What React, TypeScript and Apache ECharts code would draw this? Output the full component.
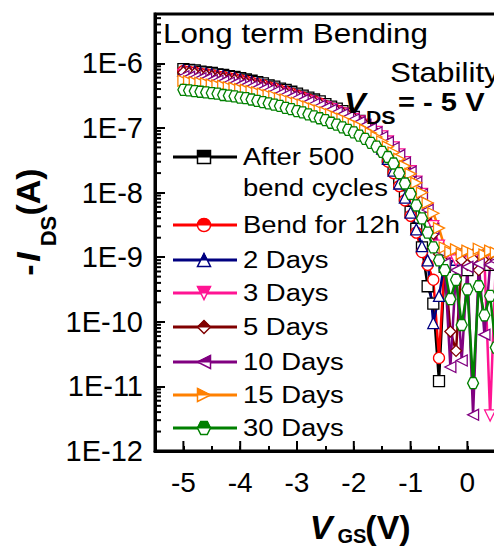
import React, { useEffect, useRef } from 'react';
import * as echarts from 'echarts';

// Gate voltage sweep (V)
const vgs = [
  -5.0, -4.9, -4.8, -4.7, -4.6, -4.5, -4.4, -4.3, -4.2, -4.1,
  -4.0, -3.9, -3.8, -3.7, -3.6, -3.5, -3.4, -3.3, -3.2, -3.1,
  -3.0, -2.9, -2.8, -2.7, -2.6, -2.5, -2.4, -2.3, -2.2, -2.1,
  -2.0, -1.9, -1.8, -1.7, -1.6, -1.5, -1.4, -1.3, -1.2, -1.1,
  -1.0, -0.9, -0.8, -0.7, -0.6, -0.5, -0.4, -0.3, -0.2, -0.1,
  0.0, 0.1, 0.2, 0.3, 0.4, 0.5, 0.6,
];

// log10(-I_DS / A), one list per curve
const logAfter500 = [
  -6.09, -6.10, -6.11, -6.13, -6.14, -6.15, -6.17, -6.18, -6.20, -6.21,
  -6.23, -6.25, -6.27, -6.29, -6.31, -6.34, -6.36, -6.39, -6.41, -6.44,
  -6.47, -6.50, -6.53, -6.56, -6.59, -6.63, -6.67, -6.70, -6.74, -6.78,
  -6.83, -6.89, -6.96, -7.05, -7.16, -7.30, -7.46, -7.64, -7.84, -8.06,
  -8.30, -8.56, -8.85, -9.45, -9.72, -10.92, -9.15, -9.05, -9.12, -9.02,
  -9.20, -9.06, -9.10, -9.01, -9.12, -9.05, -9.10,
];
const logBend12h = [
  -6.12, -6.13, -6.14, -6.16, -6.17, -6.18, -6.20, -6.21, -6.23, -6.24,
  -6.26, -6.28, -6.30, -6.32, -6.34, -6.37, -6.39, -6.42, -6.44, -6.47,
  -6.50, -6.53, -6.56, -6.59, -6.62, -6.66, -6.70, -6.73, -6.77, -6.81,
  -6.86, -6.92, -7.00, -7.09, -7.21, -7.36, -7.52, -7.70, -7.90, -8.12,
  -8.36, -8.62, -8.92, -9.12, -9.35, -10.56, -9.05, -8.98, -9.02, -8.96,
  -9.04, -8.97, -9.00, -8.95, -9.03, -8.98, -9.00,
];
const log2Days = [
  -6.11, -6.12, -6.13, -6.15, -6.16, -6.17, -6.19, -6.20, -6.22, -6.23,
  -6.25, -6.27, -6.29, -6.31, -6.33, -6.36, -6.38, -6.41, -6.43, -6.46,
  -6.49, -6.52, -6.55, -6.58, -6.61, -6.65, -6.69, -6.72, -6.76, -6.80,
  -6.85, -6.91, -6.98, -7.07, -7.18, -7.32, -7.48, -7.66, -7.86, -8.08,
  -8.31, -8.57, -8.83, -9.05, -10.02, -9.60, -9.08, -8.97, -9.04, -8.95,
  -9.01, -8.96, -9.03, -8.97, -9.00, -8.96, -9.02,
];
const log3Days = [
  -6.18, -6.19, -6.20, -6.21, -6.23, -6.24, -6.25, -6.27, -6.28, -6.30,
  -6.31, -6.33, -6.35, -6.37, -6.39, -6.41, -6.43, -6.46, -6.48, -6.51,
  -6.53, -6.56, -6.59, -6.62, -6.65, -6.68, -6.71, -6.75, -6.78, -6.82,
  -6.86, -6.90, -6.95, -7.00, -7.06, -7.13, -7.21, -7.30, -7.41, -7.53,
  -7.67, -7.83, -8.02, -8.25, -8.52, -8.82, -9.00, -8.96, -9.05, -8.98,
  -9.08, -9.02, -9.10, -9.03, -11.45, -9.10, -9.05,
];
const log5Days = [
  -6.14, -6.15, -6.16, -6.18, -6.19, -6.20, -6.22, -6.23, -6.25, -6.26,
  -6.28, -6.30, -6.32, -6.34, -6.36, -6.38, -6.41, -6.43, -6.46, -6.48,
  -6.51, -6.54, -6.57, -6.60, -6.63, -6.67, -6.70, -6.74, -6.77, -6.81,
  -6.85, -6.90, -6.95, -7.01, -7.08, -7.16, -7.25, -7.35, -7.47, -7.60,
  -7.75, -7.92, -8.12, -8.36, -8.64, -8.95, -9.08, -10.15, -10.45, -9.05,
  -9.12, -9.03, -9.20, -9.06, -9.10, -9.04, -9.08,
];
const log10Days = [
  -6.20, -6.21, -6.22, -6.23, -6.24, -6.26, -6.27, -6.28, -6.30, -6.31,
  -6.33, -6.34, -6.36, -6.38, -6.40, -6.42, -6.44, -6.47, -6.49, -6.52,
  -6.54, -6.57, -6.60, -6.63, -6.66, -6.69, -6.72, -6.76, -6.79, -6.83,
  -6.87, -6.91, -6.96, -7.01, -7.07, -7.14, -7.22, -7.31, -7.42, -7.54,
  -7.68, -7.84, -8.03, -8.27, -8.56, -8.90, -9.10, -10.70, -9.20, -10.60,
  -9.15, -11.44, -9.10, -10.20, -9.12, -9.06, -9.10,
];
const log15Days = [
  -6.27, -6.28, -6.29, -6.30, -6.31, -6.33, -6.34, -6.35, -6.37, -6.38,
  -6.40, -6.41, -6.43, -6.45, -6.47, -6.49, -6.51, -6.54, -6.56, -6.59,
  -6.61, -6.64, -6.67, -6.70, -6.73, -6.76, -6.79, -6.83, -6.86, -6.90,
  -6.94, -6.98, -7.03, -7.08, -7.14, -7.21, -7.29, -7.38, -7.48, -7.59,
  -7.71, -7.85, -8.00, -8.16, -8.32, -8.55, -8.85, -8.92, -8.88, -8.95,
  -8.90, -8.94, -8.87, -8.96, -8.90, -8.93, -8.89,
];
const log30Days = [
  -6.41, -6.42, -6.43, -6.44, -6.45, -6.46, -6.47, -6.49, -6.50, -6.51,
  -6.53, -6.54, -6.56, -6.58, -6.60, -6.62, -6.64, -6.66, -6.69, -6.71,
  -6.74, -6.76, -6.79, -6.82, -6.85, -6.88, -6.92, -6.95, -6.99, -7.03,
  -7.07, -7.12, -7.17, -7.23, -7.29, -7.37, -7.45, -7.55, -7.70, -7.86,
  -8.02, -8.20, -8.40, -8.62, -8.85, -9.05, -9.20, -9.65, -9.35, -10.05,
  -9.50, -10.95, -9.45, -9.90, -9.60, -10.40, -9.55,
];

const seriesNames = ['After 500 bend cycles', 'Bend for 12h', '2 Days', '3 Days', '5 Days', '10 Days', '15 Days', '30 Days'];
const legendLabels = [['After 500', 'bend cycles'], ['Bend for 12h'], ['2 Days'], ['3 Days'], ['5 Days'], ['10 Days'], ['15 Days'], ['30 Days']];
const seriesLogs = [logAfter500, logBend12h, log2Days, log3Days, log5Days, log10Days, log15Days, log30Days];
const seriesColors = ['#000000', '#FF0000', '#000080', '#FF1493', '#800000', '#800080', '#FF8000', '#008000'];
const seriesShapes = ['square', 'circle', 'up', 'down', 'diamond', 'left', 'right', 'hexagon'];

const xTickLabels = [-5, -4, -3, -2, -1, 0];
const yDecades = [-12, -11, -10, -9, -8, -7, -6];

const FONT = '"Liberation Sans", Arial, Helvetica, sans-serif';

type Pt = [number, number];
function circlePts(n: number, from: number, to: number): Pt[] {
  const pts: Pt[] = [];
  for (let k = 0; k <= n; k++) {
    const a = from + ((to - from) * k) / n;
    pts.push([Math.cos(a), Math.sin(a)]);
  }
  return pts;
}
const SHAPES: Record<string, { full: Pt[]; half: Pt[] }> = {
  square: { full: [[-1, -1], [1, -1], [1, 1], [-1, 1]], half: [[-1, -1], [1, -1], [1, 0], [-1, 0]] },
  circle: { full: circlePts(32, 0, Math.PI * 2), half: circlePts(16, Math.PI, Math.PI * 2) },
  up: { full: [[0, -1], [1, 1], [-1, 1]], half: [[0, -1], [0.5, 0], [-0.5, 0]] },
  down: { full: [[-1, -1], [1, -1], [0, 1]], half: [[-1, -1], [1, -1], [0.5, 0], [-0.5, 0]] },
  diamond: { full: [[0, -1], [1, 0], [0, 1], [-1, 0]], half: [[0, -1], [1, 0], [-1, 0]] },
  left: { full: [[-1, 0], [1, -1], [1, 1]], half: [[-1, 0], [1, -1], [1, 0]] },
  right: { full: [[-1, -1], [1, 0], [-1, 1]], half: [[-1, -1], [1, 0], [-1, 0]] },
  hexagon: { full: [[-0.5, -1], [0.5, -1], [1, 0], [0.5, 1], [-0.5, 1], [-1, 0]], half: [[-0.5, -1], [0.5, -1], [1, 0], [-1, 0]] },
};

function toPath(pts: Pt[]): string {
  return 'path://' + pts.map((p, i) => (i ? 'L' : 'M') + ((p[0] + 1) * 10).toFixed(2) + ' ' + ((p[1] + 1) * 10).toFixed(2)).join('') + 'Z';
}
function bbox(pts: Pt[]) {
  const xs = pts.map((p) => p[0]);
  const ys = pts.map((p) => p[1]);
  return { x0: Math.min(...xs), x1: Math.max(...xs), y0: Math.min(...ys), y1: Math.max(...ys) };
}

function buildOption() {
  const SYM = 11;
  const series: any[] = [];
  seriesLogs.forEach((logs, i) => {
    const color = seriesColors[i];
    const shape = SHAPES[seriesShapes[i]];
    const data = vgs.map((v, k) => [v, Math.pow(10, logs[k])]);
    const b = bbox(shape.half);
    series.push({
      type: 'line',
      name: seriesNames[i],
      data,
      symbol: seriesShapes[i] === 'circle' ? 'circle' : toPath(shape.full),
      symbolSize: SYM,
      showSymbol: true,
      showAllSymbol: true,
      itemStyle: { color: '#ffffff', borderColor: color, borderWidth: 1.3 },
      lineStyle: { color, width: 2.5 },
      emphasis: { disabled: true },
      silent: true,
    });
    series.push({
      type: 'scatter',
      name: seriesNames[i] + ' (fill)',
      data,
      symbol: toPath(shape.half),
      symbolSize: [((b.x1 - b.x0) / 2) * SYM, ((b.y1 - b.y0) / 2) * SYM],
      symbolOffset: [((b.x0 + b.x1) / 2) * (SYM / 2), ((b.y0 + b.y1) / 2) * (SYM / 2)],
      itemStyle: { color },
      emphasis: { disabled: true },
      silent: true,
    });
  });

  // log minor ticks on the left axis
  const yMinor: number[][] = [];
  yDecades.forEach((e) => {
    for (let m = 2; m <= 9; m++) {
      const v = m * Math.pow(10, e);
      if (v < 5.8e-6) yMinor.push([-5.5, v]);
    }
  });
  series.push({
    type: 'custom',
    name: 'yMinorTicks',
    silent: true,
    z: 10,
    data: yMinor,
    renderItem: (params: any, api: any) => {
      const p = api.coord([api.value(0), api.value(1)]);
      return { type: 'line', shape: { x1: p[0], y1: p[1], x2: p[0] + 6, y2: p[1] }, style: { stroke: '#000', lineWidth: 2 } };
    },
  });
  series.push({
    type: 'custom',
    name: 'xMajorTicks',
    silent: true,
    z: 10,
    data: xTickLabels.map((x) => [x, 1e-12]),
    renderItem: (params: any, api: any) => {
      const p = api.coord([api.value(0), api.value(1)]);
      return { type: 'line', shape: { x1: p[0], y1: p[1], x2: p[0], y2: p[1] - 10 }, style: { stroke: '#000', lineWidth: 2 } };
    },
  });

  const graphics: any[] = [];
  const txt = (text: string, x: number, y: number, size: number, opts: any = {}) => ({
    type: 'text',
    x,
    y,
    z: 100,
    scaleX: opts.scaleX ?? 1,
    style: {
      text,
      fontSize: size,
      fontFamily: FONT,
      fontWeight: opts.bold ? 'bold' : 'normal',
      fontStyle: opts.italic ? 'italic' : 'normal',
      fill: '#000',
      align: opts.align ?? 'left',
      textAlign: opts.align ?? 'left',
      verticalAlign: 'middle',
      textVerticalAlign: 'middle',
    },
  });

  graphics.push(txt('Long term Bending', 163, 33, 28, { scaleX: 1.12 }));
  graphics.push(txt('Stability', 390, 72, 28, { scaleX: 1.12 }));
  graphics.push(txt('V', 344, 103, 29, { bold: true, italic: true, scaleX: 1.12 }));
  graphics.push(txt('DS', 366, 117, 19, { bold: true, scaleX: 1.12 }));
  graphics.push(txt('= - 5 V', 398, 102, 26, { bold: true, scaleX: 1.12 }));

  // legend
  const legendY = [157, 225, 260, 293, 327, 362, 395, 428];
  legendLabels.forEach((lines, i) => {
    const y = legendY[i];
    const color = seriesColors[i];
    const shape = SHAPES[seriesShapes[i]];
    const r = 6.5;
    const cx = 204;
    graphics.push({ type: 'line', z: 100, shape: { x1: 173, y1: y, x2: 237, y2: y }, style: { stroke: color, lineWidth: 3 } });
    graphics.push({
      type: 'polygon',
      z: 101,
      shape: { points: shape.full.map((p) => [cx + p[0] * r, y + p[1] * r]) },
      style: { fill: '#fff', stroke: color, lineWidth: 1.5 },
    });
    graphics.push({
      type: 'polygon',
      z: 102,
      shape: { points: shape.half.map((p) => [cx + p[0] * r, y + p[1] * r]) },
      style: { fill: color, stroke: color, lineWidth: 1 },
    });
    lines.forEach((line, j) => {
      graphics.push(txt(line, 243, y + j * 31, 24.5, { scaleX: 1.12 }));
    });
  });

  // y axis title (rotated)
  graphics.push({
    type: 'group',
    x: 28,
    y: 291,
    rotation: Math.PI / 2,
    z: 100,
    children: [
      txt('-', 21, 0, 34, { bold: true, align: 'center' }),
      txt('I', 34, 0, 34, { bold: true, italic: true, align: 'center' }),
      txt('DS', 60, 20, 22, { bold: true, align: 'center' }),
      txt('(A)', 99, 0, 34, { bold: true, align: 'center' }),
    ],
  });
  // x axis title
  graphics.push(txt('V', 321, 527, 34, { bold: true, italic: true, align: 'center' }));
  graphics.push(txt('GS', 352, 536, 20, { bold: true, align: 'center' }));
  graphics.push(txt('(V)', 388, 527, 34, { bold: true, align: 'center' }));

  return {
    animation: false,
    backgroundColor: '#ffffff',
    grid: {
      left: 155,
      top: 14,
      width: 397.6,
      height: 437,
      show: true,
      borderColor: '#000',
      borderWidth: 3,
      backgroundColor: 'transparent',
      containLabel: false,
      outerBoundsMode: 'none',
    },
    xAxis: {
      type: 'value',
      min: -5.5,
      max: 1.5,
      interval: 0.5,
      axisLine: { show: true, onZero: false, lineStyle: { color: '#000', width: 3 } },
      axisTick: { show: true, inside: true, length: 5, lineStyle: { color: '#000', width: 2 } },
      axisLabel: {
        show: true,
        margin: 17,
        color: '#000',
        fontSize: 28,
        fontFamily: FONT,
        showMinLabel: true,
        showMaxLabel: false,
        formatter: (v: number) => (xTickLabels.indexOf(v) >= 0 ? String(v) : ''),
      },
      splitLine: { show: false },
    },
    yAxis: {
      type: 'log',
      logBase: 10,
      min: 1e-12,
      max: 5.8e-6,
      axisLine: { show: true, onZero: false, lineStyle: { color: '#000', width: 3 } },
      axisTick: { show: true, inside: true, length: 10, lineStyle: { color: '#000', width: 2 } },
      axisLabel: {
        show: true,
        margin: 12,
        color: '#000',
        fontSize: 29,
        fontFamily: FONT,
        formatter: (v: number) => {
          const e = Math.log10(v);
          const r = Math.round(e);
          return Math.abs(e - r) < 1e-6 && yDecades.indexOf(r) >= 0 ? '1E' + r : '';
        },
      },
      splitLine: { show: false },
      minorTick: { show: false },
    },
    series,
    graphic: { elements: graphics },
  };
}

export default function App() {
  const ref = useRef<HTMLDivElement>(null);
  useEffect(() => {
    if (!ref.current) return;
    const chart = echarts.init(ref.current, null, { renderer: 'svg' });
    chart.setOption(buildOption() as any);
    return () => chart.dispose();
  }, []);
  return (
    <div
      ref={ref}
      style={{ position: 'absolute', left: 0, top: 0, width: 494, height: 547, background: '#fff', overflow: 'hidden' }}
    />
  );
}
